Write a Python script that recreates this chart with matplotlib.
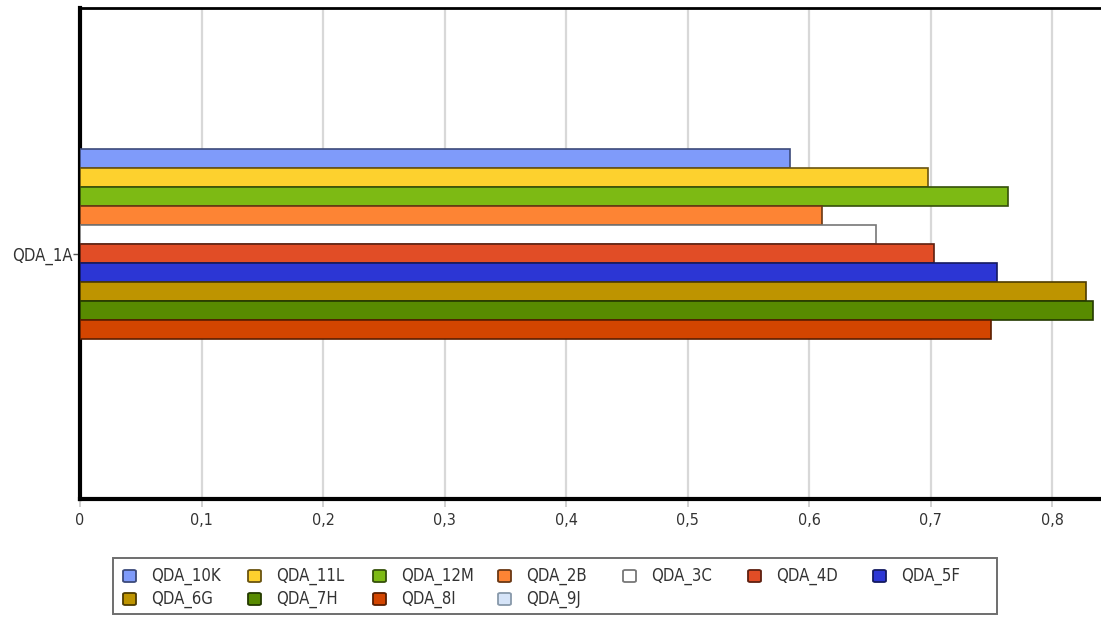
import matplotlib
matplotlib.use("Agg")
import matplotlib.pyplot as plt
from matplotlib.patches import Rectangle, FancyBboxPatch
from matplotlib.ticker import FuncFormatter

plt.rcParams["font.family"] = ["DejaVu Sans"]
plt.rcParams["font.stretch"] = "condensed"

category = "QDA_1A"
series = ["QDA_10K", "QDA_11L", "QDA_12M", "QDA_2B", "QDA_3C", "QDA_4D",
          "QDA_5F", "QDA_6G", "QDA_7H", "QDA_8I", "QDA_9J"]
values = [0.584, 0.698, 0.764, 0.611, 0.655, 0.703, 0.755, 0.828, 0.834, 0.750, 0.0]
fills = ["#7f9bfa", "#fdd12e", "#7dba14", "#fd8434", "#ffffff", "#e14d26",
         "#2c36d4", "#be9400", "#588b00", "#d34500", "#d6e4f8"]
edges = ["#3c4a7a", "#6a5410", "#35500a", "#6a3814", "#777777", "#5e2010",
         "#141a60", "#4e3c00", "#243a00", "#5a1e00", "#8899aa"]
xticks = [0, 0.1, 0.2, 0.3, 0.4, 0.5, 0.6, 0.7, 0.8]

W, H = 1101, 617
fig = plt.figure(figsize=(W / 100, H / 100), dpi=100)
ax = fig.add_axes([80 / W, 118 / H, 1 - 80 / W, 491 / H])

n = len(series)
bar_h = 0.0387
group_top = 0.0 - n * bar_h / 2
for i, (name, v, fc, ec) in enumerate(zip(series, values, fills, edges)):
    y = group_top + (i + 0.5) * bar_h
    if v > 0:
        ax.barh(y, v, height=bar_h, color=fc, edgecolor=ec, linewidth=1.2, zorder=3)

ax.set_ylim(0.5, -0.5)
ax.set_xlim(0, 0.8403)
ax.set_yticks([0])
ax.set_yticklabels([category])
ax.set_xticks(xticks)
ax.xaxis.set_major_formatter(FuncFormatter(lambda x, p: ("%g" % round(x, 1)).replace(".", ",")))

ax.grid(axis="x", color="#d8d8d8", linewidth=1.6, zorder=0)
ax.set_axisbelow(True)
for side in ["left", "bottom"]:
    ax.spines[side].set_linewidth(3)
    ax.spines[side].set_color("black")
ax.spines["top"].set_linewidth(2)
ax.spines["right"].set_visible(False)
ax.tick_params(axis="x", length=6, width=1.2, color="#c8c8c8", labelsize=11.5,
               labelcolor="#333333", pad=4)
ax.tick_params(axis="y", length=5, width=1, color="#555555", labelsize=12,
               labelcolor="#333333", pad=0)

# legend box laid out row by row, seven entries per row
def fx(px):
    return px / W


def fy(py):
    return 1 - py / H


fig.add_artist(Rectangle((fx(113), fy(614)), fx(997) - fx(113), fy(558) - fy(614),
                         transform=fig.transFigure, facecolor="white",
                         edgecolor="#6e6e6e", linewidth=1.4))
ncol = 7
for i, name in enumerate(series):
    r, c = divmod(i, ncol)
    cx = 123 + 125 * c
    cy = 576 + 23 * r
    fig.add_artist(FancyBboxPatch((fx(cx), fy(cy + 6)), fx(13), 12 / H,
                                  boxstyle="round,pad=0,rounding_size=0.002",
                                  transform=fig.transFigure, facecolor=fills[i],
                                  edgecolor=edges[i], linewidth=1.3))
    fig.text(fx(cx + 28), fy(cy), name, fontsize=12, color="#333333",
             va="center", ha="left")

fig.savefig("out.png", dpi=100)
